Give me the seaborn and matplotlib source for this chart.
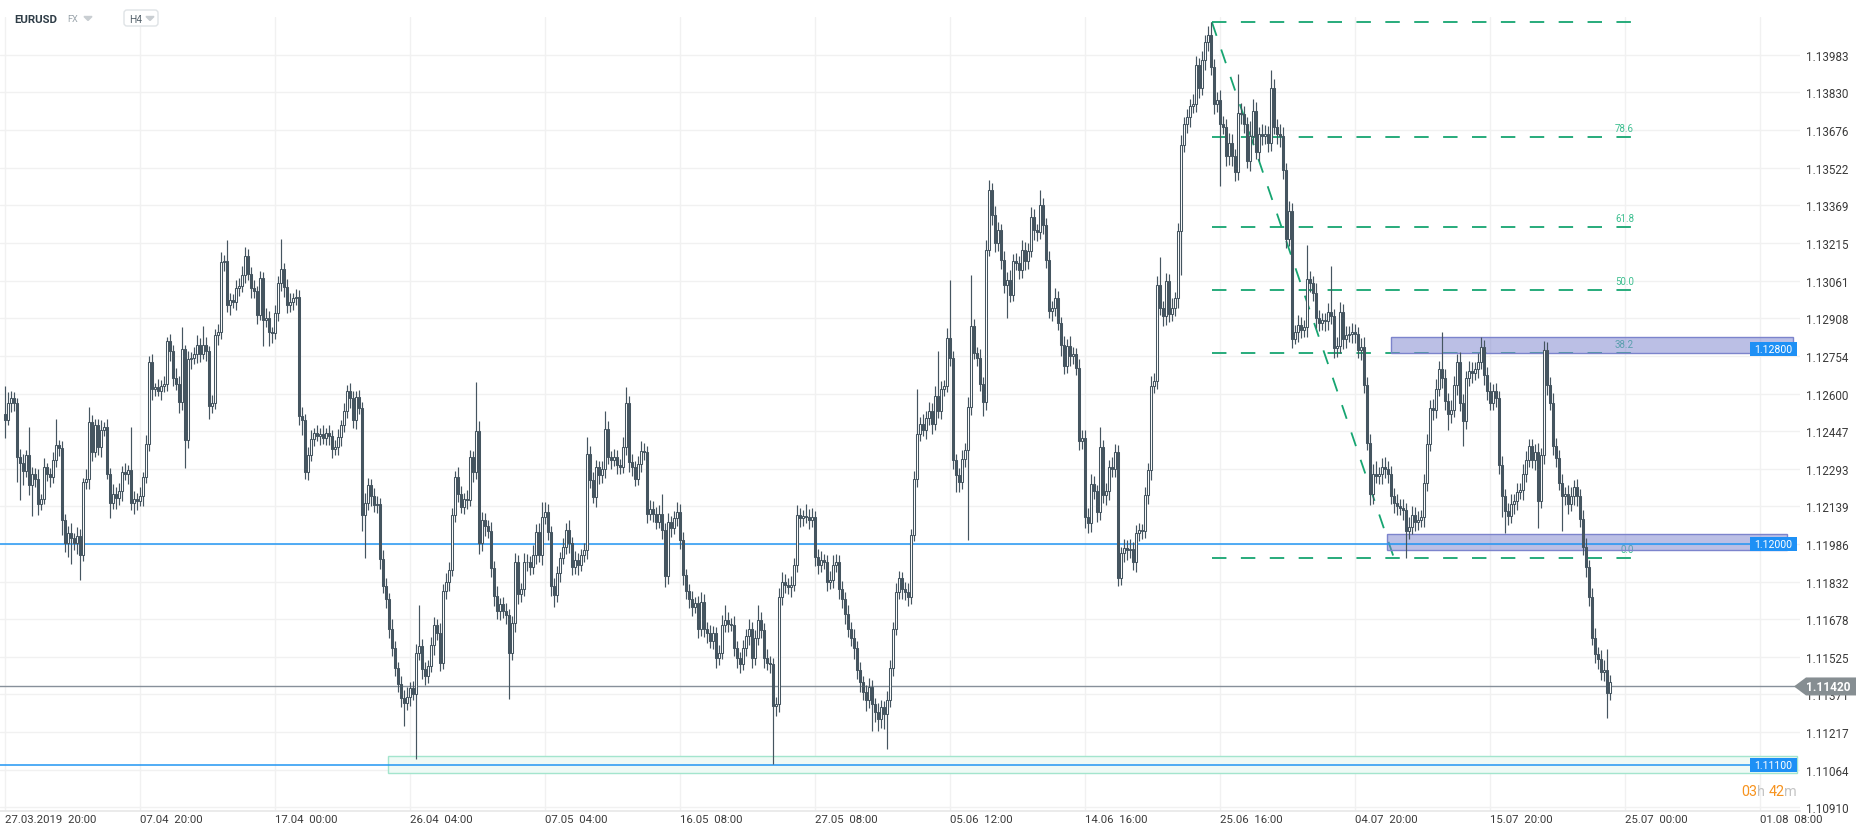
import numpy as np
import pandas as pd
import matplotlib
matplotlib.use("Agg")
import matplotlib.pyplot as plt
from matplotlib.patches import Rectangle, Polygon, FancyBboxPatch
from matplotlib.transforms import offset_copy
import seaborn as sns

# EURUSD H4 closes, in 1e-5 above 1.10000
close_pts = [
    2490, 2560, 2580, 2560, 2340, 2315, 2285, 2350, 2227, 2270, 2250, 2150, 2170, 2300, 2271, 2258, 2330, 2389, 2378, 2083,
    1991, 2030, 2010, 1990, 2018, 1940, 2240, 2250, 2483, 2360, 2470, 2380, 2450, 2465, 2270, 2153, 2190, 2175, 2200, 2280,
    2270, 2288, 2153, 2170, 2160, 2180, 2260, 2395, 2730, 2618, 2625, 2610, 2630, 2640, 2813, 2773, 2665, 2640, 2564, 2780,
    2409, 2740, 2745, 2760, 2800, 2760, 2800, 2773, 2550, 2560, 2840, 2853, 3137, 3140, 2962, 2982, 2975, 3030, 3040, 3083,
    3160, 3090, 3030, 3020, 2921, 3070, 2901, 2908, 2850, 2847, 2928, 3052, 3110, 3036, 2960, 2975, 2990, 2996, 2510, 2490,
    2281, 2350, 2416, 2440, 2425, 2435, 2420, 2440, 2426, 2375, 2380, 2422, 2470, 2530, 2610, 2580, 2490, 2584, 2540, 2102,
    2153, 2225, 2180, 2146, 2150, 1924, 1816, 1760, 1640, 1560, 1480, 1412, 1358, 1338, 1360, 1398, 1372, 1541, 1568, 1473,
    1446, 1487, 1571, 1656, 1622, 1500, 1792, 1832, 1880, 2104, 2259, 2191, 2137, 2170, 2164, 2341, 2280, 2449, 1988, 2083,
    2060, 2040, 1887, 1772, 1710, 1740, 1710, 1697, 1541, 1663, 1910, 1780, 1800, 1914, 1910, 1890, 1940, 2036, 1941, 2097,
    2117, 2036, 1812, 1778, 1867, 1927, 1975, 2042, 1988, 1893, 1920, 1900, 1940, 1960, 2354, 2246, 2178, 2300, 2266, 2290,
    2456, 2341, 2330, 2340, 2307, 2300, 2381, 2560, 2320, 2300, 2252, 2314, 2367, 2360, 2110, 2130, 2110, 2075, 2110, 2042,
    1853, 2076, 2050, 2090, 2117, 2000, 1860, 1792, 1760, 1730, 1745, 1640, 1750, 1640, 1620, 1590, 1622, 1521, 1540, 1656,
    1677, 1660, 1656, 1560, 1521, 1494, 1560, 1609, 1640, 1521, 1600, 1677, 1636, 1521, 1500, 1494, 1324, 1331, 1771, 1832,
    1820, 1810, 1818, 1900, 2104, 2090, 2100, 2097, 2083, 2097, 1934, 1900, 1920, 1910, 1832, 1840, 1900, 1914, 1800, 1760,
    1700, 1640, 1600, 1560, 1470, 1420, 1380, 1350, 1400, 1330, 1300, 1270, 1320, 1290, 1350, 1480, 1640, 1790, 1846, 1800,
    1790, 1771, 2022, 2253, 2435, 2476, 2450, 2500, 2530, 2476, 2591, 2530, 2620, 2630, 2828, 2744, 2327, 2266, 2239, 2334,
    2368, 2544, 2876, 2767, 2747, 2639, 2564, 3187, 3431, 3330, 3214, 3269, 3147, 3045, 3065, 3004, 3140, 3133, 3106, 3187,
    3140, 3181, 3323, 3269, 3260, 3370, 3290, 3147, 2937, 2950, 2990, 2889, 2800, 2713, 2794, 2754, 2760, 2706, 2408, 2420,
    2096, 2070, 2232, 2200, 2117, 2381, 2185, 2200, 2300, 2290, 2361, 1846, 1947, 1970, 1960, 1965, 1913, 2029, 2043, 2040,
    2185, 2286, 2632, 2652, 3045, 2950, 2916, 3058, 2923, 2950, 2990, 3262, 3616, 3700, 3728, 3774, 3783, 3942, 3849, 3961,
    4035, 4063, 3933, 3783, 3800, 3700, 3690, 3569, 3625, 3569, 3504, 3746, 3740, 3700, 3551, 3653, 3756, 3588, 3660, 3650,
    3662, 3625, 3849, 3690, 3660, 3653, 3513, 3233, 3345, 2823, 2850, 2879, 2860, 2870, 3066, 3050, 3010, 2907, 2890, 2900,
    2895, 2935, 2916, 2786, 2795, 2935, 2823, 2840, 2845, 2850, 2842, 2776, 2790, 2636, 2400, 2189, 2273, 2265, 2270, 2300,
    2290, 2273, 2180, 2151, 2140, 2133, 2125, 2040, 2057, 2105, 2077, 2085, 2096, 2235, 2394, 2543, 2534, 2618, 2702, 2664,
    2571, 2515, 2534, 2636, 2730, 2562, 2487, 2664, 2692, 2685, 2700, 2730, 2789, 2674, 2609, 2562, 2609, 2581, 2310, 2180,
    2120, 2100, 2150, 2160, 2198, 2206, 2273, 2329, 2385, 2329, 2360, 2161, 2348, 2776, 2636, 2562, 2385, 2338, 2235, 2180,
    2190, 2150, 2180, 2217, 2180, 2086, 1974, 1890, 1769, 1601, 1536, 1517, 1461, 1471, 1377, 1420,
]
first_open_pts = 2517

upper_wick = [
    113, 48, 30, 25, 20, 35, 40, 18, 113, 30, 25, 40, 20, 35, 15, 25, 30, 108, 20, 30,
    25, 30, 40, 20, 35, 30, 15, 40, 61, 30, 25, 27, 40, 20, 30, 25, 40, 30, 35, 25,
    35, 20, 175, 30, 25, 40, 20, 35, 25, 30, 20, 35, 25, 30, 18, 30, 25, 40, 30, 91,
    20, 35, 25, 30, 40, 25, 74, 30, 20, 35, 25, 30, 40, 25, 88, 30, 25, 35, 30, 40,
    40, 30, 25, 35, 20, 30, 25, 40, 30, 20, 35, 30, 121, 25, 30, 35, 20, 30, 25, 35,
    25, 30, 35, 20, 30, 25, 35, 20, 30, 25, 30, 35, 20, 30, 25, 35, 30, 25, 30, 25,
    40, 30, 25, 35, 30, 25, 35, 30, 25, 40, 30, 25, 35, 30, 40, 25, 30, 35, 169, 30,
    30, 25, 35, 30, 25, 40, 30, 35, 32, 30, 25, 40, 30, 25, 35, 30, 25, 197, 40, 35,
    30, 25, 35, 30, 40, 25, 30, 35, 25, 30, 40, 30, 25, 35, 30, 25, 40, 30, 35, 60,
    40, 30, 25, 35, 30, 25, 35, 30, 40, 25, 35, 30, 25, 30, 68, 30, 35, 30, 25, 35,
    74, 30, 25, 35, 30, 25, 40, 68, 30, 35, 25, 30, 40, 30, 25, 35, 30, 25, 35, 80,
    30, 35, 25, 30, 40, 30, 35, 25, 30, 35, 25, 30, 40, 30, 25, 35, 30, 25, 35, 40,
    60, 30, 25, 35, 30, 25, 35, 30, 40, 25, 35, 60, 30, 25, 35, 30, 25, 30, 35, 40,
    30, 25, 35, 30, 40, 30, 25, 50, 30, 35, 25, 30, 35, 25, 30, 35, 40, 30, 25, 35,
    30, 35, 25, 40, 30, 35, 25, 30, 40, 30, 25, 35, 30, 25, 35, 30, 25, 35, 30, 25,
    30, 35, 25, 30, 183, 30, 40, 30, 35, 30, 40, 183, 30, 25, 40, 237, 30, 25, 30, 35,
    30, 40, 209, 30, 25, 35, 30, 40, 41, 30, 35, 30, 25, 35, 30, 40, 30, 35, 30, 40,
    30, 35, 40, 30, 25, 62, 30, 25, 35, 30, 40, 30, 25, 35, 30, 40, 30, 25, 35, 30,
    30, 35, 40, 30, 25, 81, 30, 35, 30, 40, 35, 30, 25, 35, 30, 40, 30, 35, 30, 25,
    35, 30, 40, 30, 35, 113, 30, 35, 30, 40, 25, 35, 40, 30, 35, 30, 40, 35, 30, 40,
    30, 40, 54, 35, 30, 40, 35, 30, 40, 35, 30, 159, 40, 35, 30, 60, 46, 35, 30, 40,
    35, 30, 74, 35, 30, 40, 35, 30, 40, 35, 30, 40, 35, 30, 139, 35, 30, 40, 35, 30,
    30, 35, 186, 30, 35, 40, 30, 35, 30, 40, 35, 30, 35, 40, 30, 35, 40, 50, 30, 35,
    40, 35, 30, 35, 40, 30, 35, 30, 40, 35, 30, 35, 30, 35, 40, 30, 35, 40, 30, 149,
    35, 30, 40, 35, 30, 40, 35, 30, 40, 35, 30, 35, 43, 30, 35, 40, 30, 35, 30, 35,
    30, 35, 40, 30, 35, 30, 40, 35, 28, 30, 35, 40, 30, 37, 35, 30, 40, 35, 30, 35,
    30, 35, 40, 30, 35, 30, 40, 35, 30, 35, 40, 30, 35, 40, 84, 30,
]
lower_wick = [
    73, 20, 35, 30, 100, 150, 60, 25, 40, 126, 30, 45, 25, 20, 30, 40, 25, 30, 35, 60,
    40, 60, 107, 30, 45, 101, 25, 30, 40, 35, 20, 30, 40, 25, 20, 60, 25, 45, 30, 40,
    25, 40, 30, 45, 35, 20, 40, 25, 30, 45, 30, 20, 35, 25, 30, 40, 35, 25, 45, 30,
    115, 30, 40, 25, 35, 30, 20, 40, 53, 30, 25, 40, 30, 35, 30, 40, 25, 35, 30, 25,
    30, 25, 40, 30, 35, 20, 108, 30, 57, 40, 25, 30, 35, 40, 30, 25, 35, 30, 40, 60,
    30, 35, 25, 30, 20, 35, 25, 30, 35, 40, 25, 30, 35, 25, 30, 40, 30, 35, 25, 64,
    172, 30, 40, 30, 35, 40, 30, 35, 40, 30, 35, 30, 40, 95, 30, 35, 25, 265, 30, 40,
    35, 30, 25, 40, 30, 35, 25, 30, 40, 25, 30, 35, 25, 30, 35, 25, 40, 30, 45, 30,
    40, 30, 35, 40, 30, 35, 25, 40, 190, 30, 35, 40, 30, 25, 35, 30, 25, 35, 30, 40,
    30, 35, 40, 50, 30, 35, 25, 30, 40, 35, 30, 40, 25, 30, 35, 30, 25, 40, 35, 30,
    35, 30, 40, 25, 35, 30, 25, 30, 40, 35, 30, 25, 35, 30, 40, 25, 35, 30, 25, 35,
    45, 30, 35, 25, 30, 35, 40, 30, 35, 40, 25, 40, 30, 35, 40, 30, 35, 40, 30, 25,
    30, 35, 25, 30, 40, 35, 25, 30, 35, 40, 30, 25, 35, 40, 30, 35, 237, 40, 30, 35,
    35, 30, 40, 25, 30, 35, 30, 25, 35, 30, 40, 35, 30, 25, 40, 30, 35, 30, 40, 35,
    40, 35, 30, 45, 35, 40, 30, 45, 35, 108, 40, 50, 35, 60, 142, 30, 35, 25, 30, 40,
    35, 40, 30, 25, 35, 30, 25, 35, 30, 40, 25, 30, 35, 30, 25, 30, 35, 68, 40, 30,
    35, 366, 30, 25, 35, 30, 54, 30, 25, 40, 35, 30, 40, 35, 135, 30, 25, 30, 40, 35,
    35, 30, 25, 40, 35, 30, 40, 35, 30, 40, 35, 30, 45, 35, 30, 40, 35, 30, 40, 35,
    45, 40, 35, 30, 40, 35, 30, 40, 35, 30, 30, 34, 27, 35, 40, 30, 35, 40, 30, 35,
    30, 35, 40, 30, 35, 30, 40, 35, 30, 25, 35, 40, 178, 30, 35, 40, 30, 35, 40, 30,
    40, 35, 30, 40, 35, 252, 30, 40, 35, 40, 35, 30, 40, 35, 30, 40, 35, 30, 40, 35,
    30, 40, 35, 30, 40, 45, 35, 40, 30, 35, 19, 40, 35, 30, 40, 35, 30, 40, 35, 30,
    40, 35, 30, 40, 35, 30, 40, 35, 30, 40, 35, 30, 40, 35, 30, 45, 40, 30, 35, 40,
    35, 40, 30, 40, 35, 30, 40, 112, 35, 30, 40, 35, 30, 40, 35, 30, 40, 35, 30, 40,
    40, 65, 35, 30, 40, 35, 102, 30, 35, 40, 30, 35, 30, 40, 35, 28, 30, 35, 40, 84,
    90, 35, 30, 40, 35, 30, 40, 35, 30, 35, 40, 112, 30, 35, 40, 30, 35, 40, 30, 141,
    35, 40, 30, 35, 40, 30, 35, 40, 35, 30, 35, 40, 30, 35, 102, 30,
]

date_labels = ["27.03.2019  20:00", "07.04  20:00", "17.04  00:00", "26.04  04:00",
               "07.05  04:00", "16.05  08:00", "27.05  08:00", "05.06  12:00",
               "14.06  16:00", "25.06  16:00", "04.07  20:00", "15.07  20:00",
               "25.07  00:00", "01.08  08:00"]
bars_per_label = 45

price_ticks = [1.10910, 1.11064, 1.11217, 1.11371, 1.11525, 1.11678, 1.11832,
               1.11986, 1.12139, 1.12293, 1.12447, 1.12600, 1.12754, 1.12908,
               1.13061, 1.13215, 1.13369, 1.13522, 1.13676, 1.13830, 1.13983]

support_level = 1.12000
floor_level = 1.11100
last_price = 1.11420
res_label = 1.12800
res_zone = (1.12766, 1.12830, 461.9, 596.0)
sup_zone = (1.11961, 1.12026, 460.7, 594.0)
floor_zone = (1.11049, 1.11118, 127.7, 597.3)

fib_high, fib_low = 1.14117, 1.11928
fib_start, fib_end, fib_right = 402.3, 463.0, 544.0
fib_ratios = [0.0, 38.2, 50.0, 61.8, 78.6, 100.0]

DARK = "#455560"
BLUE = "#2196f3"
GREEN = "#16a571"

# ---- frame ----
sns.set_theme(style="white")
plt.rcParams["font.family"] = ["Roboto", "DejaVu Sans"]

W, H = 1866, 837
fig = plt.figure(figsize=(W / 100, H / 100), dpi=100)
ax_top, ax_bot, ax_right = 18, 812, 1800
ax = fig.add_axes([0, 1 - ax_bot / H, ax_right / W, (ax_bot - ax_top) / H])
ymin, ymax = 1.10895, 1.14138
px = (ymax - ymin) / (ax_bot - ax_top)   # price per pixel
ax.set_ylim(ymin, ymax)
ax.set_xlim(-5 / 3, (ax_right - 5) / 3)
# the platform draws its level lines a few pixels below the price scale
lvl_trans = offset_copy(ax.transData, fig=fig, x=0, y=-4, units="dots")

df = pd.DataFrame({"close": 1.1 + np.array(close_pts) / 1e5})
df["open"] = df["close"].shift(1)
df.loc[0, "open"] = 1.1 + first_open_pts / 1e5
df["high"] = df[["open", "close"]].max(axis=1) + np.array(upper_wick) / 1e5
df["low"] = df[["open", "close"]].min(axis=1) - np.array(lower_wick) / 1e5
df["bull"] = df["close"] >= df["open"]
x = df.index.values

# grid
ax.set_yticks(price_ticks)
ax.set_yticklabels([f"{p:.5f}" for p in price_ticks])
ax.yaxis.tick_right()
ax.set_xticks(np.arange(len(date_labels)) * bars_per_label)
ax.set_xticklabels(date_labels, ha="left")
ax.tick_params(axis="y", length=0, pad=4.5, labelsize=8.4, labelcolor="#3a3a3a")
ax.tick_params(axis="x", length=0, pad=2.5, labelsize=8.2, labelcolor="#3a3a3a")
ax.grid(True, color="#f1f1f1", linewidth=1, zorder=0)
ax.set_axisbelow(True)
sns.despine(ax=ax, left=True, top=True, right=True)
ax.spines["bottom"].set_color("#e8e8e8")

# fib retracement
span = fib_high - fib_low
dash = (0, (8.0, 8.0))
for r in fib_ratios:
    lvl = fib_low + span * r / 100
    ax.hlines(lvl, fib_start, fib_right, color=GREEN, linewidth=1.3,
              linestyle=dash, zorder=2)
    if r < 100:
        ax.text(fib_right - 1, lvl + 4 * px, f"{r:.1f}", ha="right", va="bottom",
                fontsize=7, color="#3dbf90", zorder=2)
ax.plot([fib_start, fib_end], [fib_high, fib_low], color=GREEN, linewidth=1.3,
        linestyle=dash, zorder=2)

# zones
for lo, hi, x0, x1 in (res_zone, sup_zone):
    ax.add_patch(Rectangle((x0, lo), x1 - x0, hi - lo, facecolor="#7880cc", alpha=0.5,
                           edgecolor="none", zorder=2.5))
    ax.add_patch(Rectangle((x0, lo), x1 - x0, hi - lo, facecolor="none",
                           edgecolor="#7c84cc", linewidth=1, zorder=2.6))
lo, hi, x0, x1 = floor_zone
ax.add_patch(Rectangle((x0, lo), x1 - x0, hi - lo, facecolor="#eefaf5",
                       edgecolor="#a3e5cd", linewidth=1, zorder=1))

# horizontal levels
lab_x0 = (1750 - 5) / 3
ax.hlines([support_level, floor_level], -2, lab_x0, color=BLUE, linewidth=1.1,
          zorder=2.7, transform=lvl_trans)
ax.hlines(last_price, -2, (1800 - 5) / 3, color="#87909a", linewidth=1.0,
          zorder=2.7, transform=lvl_trans)

# candles
ax.vlines(x, df["low"], df["high"], color=DARK, linewidth=0.85, zorder=3)
body_lo = df[["open", "close"]].min(axis=1)
body_h = (df["close"] - df["open"]).abs().clip(lower=0.00003)
ax.bar(x, body_h, bottom=body_lo, width=0.72,
       color=np.where(df["bull"], "white", DARK), edgecolor=DARK,
       linewidth=0.75, zorder=4)

# level labels
lab_w = 47 / 3
for val in (res_label, support_level, floor_level):
    ax.add_patch(Rectangle((lab_x0, val - 7 * px), lab_w, 14 * px, facecolor="#1e90f5",
                           edgecolor="none", zorder=6, clip_on=False, transform=lvl_trans))
    ax.text(lab_x0 + lab_w / 2, val, f"{val:.5f}", ha="center", va="center",
            fontsize=7.6, color="white", zorder=7, transform=lvl_trans)

# current price tag
tx0, tx1, tip = (1806 - 5) / 3, (1856 - 5) / 3, (1794 - 5) / 3
tag = Polygon([(tip, last_price), (tx0, last_price + 9 * px), (tx1, last_price + 9 * px),
               (tx1, last_price - 9 * px), (tx0, last_price - 9 * px)],
              closed=True, facecolor="#868e92", edgecolor="none", zorder=8,
              clip_on=False, transform=lvl_trans)
ax.add_patch(tag)
ax.text((tx0 + tx1) / 2 - 1, last_price, f"{last_price:.5f}", ha="center", va="center",
        fontsize=8.6, fontweight="bold", color="white", zorder=9, clip_on=False,
        transform=lvl_trans)

# overlay for header and countdown (pixel space)
ov = fig.add_axes([0, 0, 1, 1], zorder=10)
ov.set_xlim(0, W)
ov.set_ylim(H, 0)
ov.axis("off")
ov.patch.set_alpha(0)
ov.text(14, 19.5, "EURUSD", fontsize=8.2, fontweight="bold", color="#2f3d47", va="center")
ov.text(67, 19.5, "FX", fontsize=6.6, color="#9aa4ab", va="center")
ov.add_patch(Polygon([(84, 17.5), (92, 17.5), (88, 21.5)], closed=True, color="#c9ced2"))
ov.add_patch(FancyBboxPatch((124, 11), 34, 16, boxstyle="round,pad=0,rounding_size=3",
                            facecolor="white", edgecolor="#dfe3e6", linewidth=1))
ov.text(129, 19.5, "H4", fontsize=7.4, color="#55626b", va="center")
ov.add_patch(Polygon([(146, 17.5), (154, 17.5), (150, 21.5)], closed=True, color="#c9ced2"))

cx = 1797
for txt, col in (("m", "#c4c4c4"), ("42", "#f7931e"), ("h ", "#c4c4c4"), ("03", "#f7931e")):
    t = ov.text(cx, 792, txt, fontsize=10.4, color=col, ha="right", va="center")
    fig.canvas.draw()
    bb = t.get_window_extent()
    cx -= bb.width

fig.savefig("out.png", dpi=100, facecolor="white")
